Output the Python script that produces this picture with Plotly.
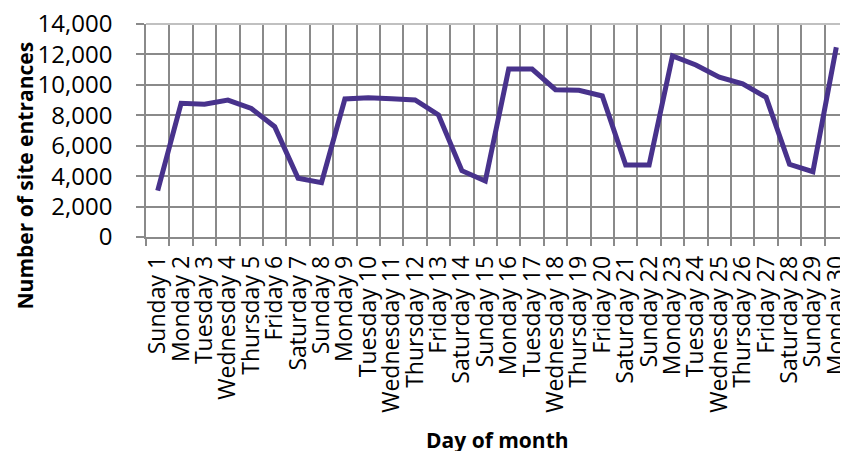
import plotly.graph_objects as go

days = ["Sunday 1", "Monday 2", "Tuesday 3", "Wednesday 4", "Thursday 5", "Friday 6",
        "Saturday 7", "Sunday 8", "Monday 9", "Tuesday 10", "Wednesday 11", "Thursday 12",
        "Friday 13", "Saturday 14", "Sunday 15", "Monday 16", "Tuesday 17", "Wednesday 18",
        "Thursday 19", "Friday 20", "Saturday 21", "Sunday 22", "Monday 23", "Tuesday 24",
        "Wednesday 25", "Thursday 26", "Friday 27", "Saturday 28", "Sunday 29", "Monday 30"]
entrances = [3050, 8790, 8720, 9000, 8450, 7250,
             3860, 3570, 9070, 9150, 9090, 9010,
             8020, 4360, 3680, 11040, 11040, 9680,
             9640, 9270, 4730, 4730, 11900, 11310,
             10500, 10060, 9180, 4780, 4290, 12470]
y_ticks = [0, 2000, 4000, 6000, 8000, 10000, 12000, 14000]
y_max = 14000

FONT = "Open Sans"
GRID = "#8a8a8a"

fig = go.Figure(go.Scatter(
    x=days, y=entrances, mode="lines",
    line=dict(color="#48328c", width=5),
))

fig.update_layout(
    width=840, height=443,
    margin=dict(l=138, r=0, t=16, b=214),
    paper_bgcolor="white", plot_bgcolor="white",
    showlegend=False,
    font=dict(family=FONT, size=22, color="black"),
)
fig.update_xaxes(
    type="category", tickson="boundaries", tickmode="linear", dtick=1, tick0=0,
    range=[-0.5, len(days) - 0.5], automargin=False,
    tickangle=-90, ticks="outside", ticklen=7, tickcolor=GRID, tickwidth=1.5,
    showgrid=True, gridcolor=GRID, gridwidth=1.5,
    showline=True, linecolor=GRID, linewidth=1.5,
    tickfont=dict(family=FONT, size=23),
    ticklabelstandoff=8, ticklabeloverflow="allow",
)
fig.update_yaxes(
    range=[0, y_max], tickvals=y_ticks, tickformat=",d", automargin=False,
    ticks="outside", ticklen=8, tickcolor=GRID, tickwidth=1.5,
    showgrid=True, gridcolor=GRID, gridwidth=1.5,
    showline=True, linecolor=GRID, linewidth=1.5,
    zeroline=False,
    tickfont=dict(family=FONT, size=24),
    ticklabelstandoff=19, ticklabeloverflow="allow",
)
# top border of the plot area (light grey line at the top of the range)
fig.add_shape(type="line", xref="paper", yref="paper", x0=0, x1=1, y0=1, y1=1,
              line=dict(color="#c0c0c0", width=2), layer="above")
fig.add_annotation(text="<b>Number of site entrances</b>", xref="paper", yref="paper",
                   x=-0.172, y=0.29, xanchor="center", yanchor="middle",
                   textangle=-90, showarrow=False,
                   font=dict(family=FONT, size=21))
fig.add_annotation(text="<b>Day of month</b>", xref="paper", yref="paper",
                   x=0.5, y=-0.953, xanchor="center", yanchor="middle",
                   showarrow=False,
                   font=dict(family=FONT, size=21))

fig.write_html("out.html")
